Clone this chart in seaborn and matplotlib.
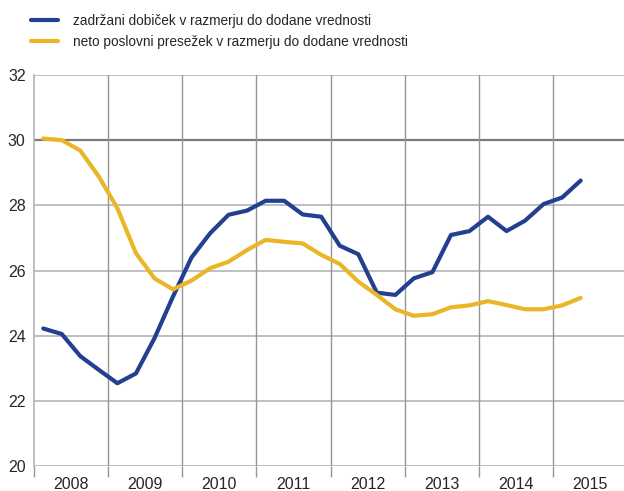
import numpy as np
import pandas as pd
import matplotlib
matplotlib.use("Agg")
import matplotlib.pyplot as plt
import seaborn as sns
from matplotlib.ticker import FixedLocator, NullFormatter, FixedFormatter

# quarterly data 2008Q1 .. 2015Q2
quarters = [f"{y}Q{q}" for y in range(2008, 2016) for q in range(1, 5)][:30]

retained = [24.22, 24.05, 23.37, 22.95, 22.54, 22.84, 23.92, 25.20,
            26.40, 27.14, 27.71, 27.84, 28.14, 28.14, 27.72, 27.65,
            26.76, 26.50, 25.32, 25.25, 25.76, 25.95, 27.09, 27.21,
            27.65, 27.21, 27.53, 28.04, 28.24, 28.76]
surplus = [30.05, 30.00, 29.68, 28.88, 27.91, 26.53, 25.76, 25.42,
           25.69, 26.07, 26.27, 26.63, 26.94, 26.88, 26.83, 26.48,
           26.20, 25.66, 25.25, 24.81, 24.61, 24.66, 24.87, 24.93,
           25.06, 24.94, 24.81, 24.81, 24.93, 25.16]

label_retained = "zadržani dobiček v razmerju do dodane vrednosti"
label_surplus = "neto poslovni presežek v razmerju do dodane vrednosti"
years = list(range(2008, 2016))

# position of each quarter in the middle of its quarter
xpos = [int(q[:4]) + (int(q[-1]) - 0.5) / 4 for q in quarters]
df = pd.DataFrame({
    "x": xpos * 2,
    "value": retained + surplus,
    "series": [label_retained] * len(xpos) + [label_surplus] * len(xpos),
})

sns.set_style("white")
plt.rcParams["font.family"] = ["Liberation Sans", "DejaVu Sans"]

W, H = 624, 491
fig = plt.figure(figsize=(W / 100, H / 100), dpi=100)
ax = fig.add_axes([34 / W, 25 / H, 593 / W, 391 / H])

palette = {label_retained: "#233f8f", label_surplus: "#e8b626"}
sns.lineplot(data=df, x="x", y="value", hue="series", palette=palette,
             linewidth=3, ax=ax, legend=False)

ax.set_xlim(2008, 2016)
ax.set_ylim(20, 32)

# horizontal grid
for v in range(20, 34, 2):
    ax.axhline(v, color="#7a7a7a" if v == 30 else "#b4b4b4",
               lw=1.6 if v == 30 else 1.2, zorder=0)
for y in years[1:]:
    ax.axvline(y, color="#959595", lw=1.0, zorder=0)

for s in ["top", "right", "bottom"]:
    ax.spines[s].set_visible(False)
ax.spines["left"].set_color("#b4b4b4")
ax.spines["left"].set_linewidth(1.2)

ax.xaxis.set_major_locator(FixedLocator(years))
ax.xaxis.set_major_formatter(NullFormatter())
ax.xaxis.set_minor_locator(FixedLocator([y + 0.5 for y in years]))
ax.xaxis.set_minor_formatter(FixedFormatter([str(y) for y in years]))
ax.tick_params(axis="x", which="major", length=8, width=1.0, color="#959595",
               direction="out", bottom=True)
ax.tick_params(axis="x", which="minor", length=0, pad=8, labelsize=11.5)
ax.tick_params(axis="y", length=0, pad=6, labelsize=11.5)
ax.set_yticks(range(20, 34, 2))
ax.set_xlabel("")
ax.set_ylabel("")

# legend drawn at top left
handles = [plt.Line2D([], [], color=palette[label_retained], lw=3),
           plt.Line2D([], [], color=palette[label_surplus], lw=3)]
fig.legend(handles, [label_retained, label_surplus], loc="upper left",
           bbox_to_anchor=(19 / W, 1 - 2 / H), frameon=False, fontsize=9.8,
           handlelength=2.0, handletextpad=1.1, labelspacing=0.5)

fig.savefig("out.png", dpi=100)
